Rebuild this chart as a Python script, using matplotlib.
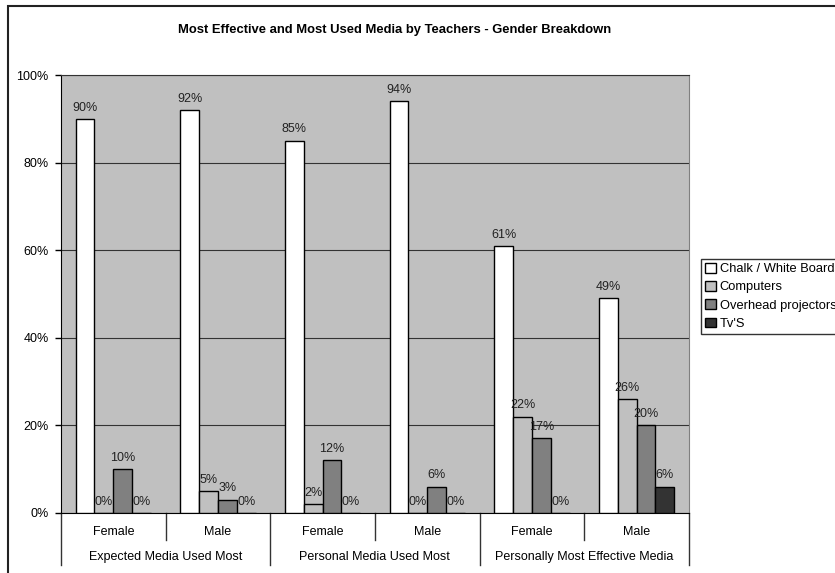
import matplotlib.pyplot as plt
from matplotlib.patches import Rectangle
import numpy as np

plt.rcParams['font.family'] = ['Liberation Sans', 'DejaVu Sans']

# survey results, in percent
groups = ['Expected Media Used Most', 'Personal Media Used Most', 'Personally Most Effective Media']
genders = ['Female', 'Male', 'Female', 'Male', 'Female', 'Male']
series = ['Chalk / White Boards', 'Computers', 'Overhead projectors', "Tv'S"]
chalk = [90, 92, 85, 94, 61, 49]
computers = [0, 5, 2, 0, 22, 26]
overhead = [10, 3, 12, 6, 17, 20]
tvs = [0, 0, 0, 0, 0, 6]
colors = ['#FFFFFF', '#C0C0C0', '#808080', '#333333']

fig = plt.figure(figsize=(8.35, 5.73), dpi=100)
# chart border, running off the right and bottom edges
fig.patches.append(Rectangle((8 / 835, -0.05), 1.0, 1 - 6 / 573 + 0.05,
                             transform=fig.transFigure, fill=False,
                             edgecolor='#222222', linewidth=1.5))

ax = fig.add_axes([0.073, 0.105, 0.752, 0.764])
ax.set_facecolor('#C0C0C0')

x = np.arange(len(genders))
w = 0.18
for i, (vals, col) in enumerate(zip([chalk, computers, overhead, tvs], colors)):
    bars = ax.bar(x + (i - 1.5) * w, vals, w, color=col, edgecolor='black',
                  linewidth=1, label=series[i], zorder=3)
    for b, v in zip(bars, vals):
        ax.text(b.get_x() + b.get_width() / 2, v + 1.2, f'{v}%',
                ha='center', va='bottom', fontsize=9, color='#222222', zorder=4)

ax.set_xlim(-0.5, 5.5)
ax.set_ylim(0, 100)
ax.set_yticks(range(0, 101, 20))
ax.set_yticklabels([f'{t}%' for t in range(0, 101, 20)], fontsize=9)
ax.yaxis.grid(True, color='#333333', linewidth=0.8, zorder=0)
ax.tick_params(axis='y', length=4, width=1, pad=5)
ax.set_xticks([])
ax.spines['left'].set_color('black')
ax.spines['bottom'].set_color('black')
ax.spines['top'].set_color('#333333')
ax.spines['right'].set_color('#808080')

# two-level category axis below the plot
tr = ax.get_xaxis_transform()
for i, g in enumerate(genders):
    ax.text(x[i], -0.043, g, transform=tr, ha='center', va='center', fontsize=9)
for j, g in enumerate(groups):
    ax.text(2 * j + 0.5, -0.1, g, transform=tr, ha='center', va='center', fontsize=9)
for k in range(7):
    xb = k - 0.5
    low = -0.12 if k % 2 == 0 else -0.063
    ax.plot([xb, xb], [0, low], transform=tr, color='#333333', linewidth=1,
            clip_on=False)

fig.text(0.473, 0.948, 'Most Effective and Most Used Media by Teachers - Gender Breakdown',
         ha='center', va='center', fontsize=9.4, fontweight='bold')

leg = ax.legend(loc='upper left', bbox_to_anchor=(1.02, 0.58), fontsize=9.3,
                frameon=True, fancybox=False, edgecolor='black',
                handlelength=0.8, handleheight=0.8, handletextpad=0.3,
                labelspacing=0.45, borderpad=0.3, borderaxespad=0)
leg.get_frame().set_linewidth(1)

fig.savefig('out.png', dpi=100)
